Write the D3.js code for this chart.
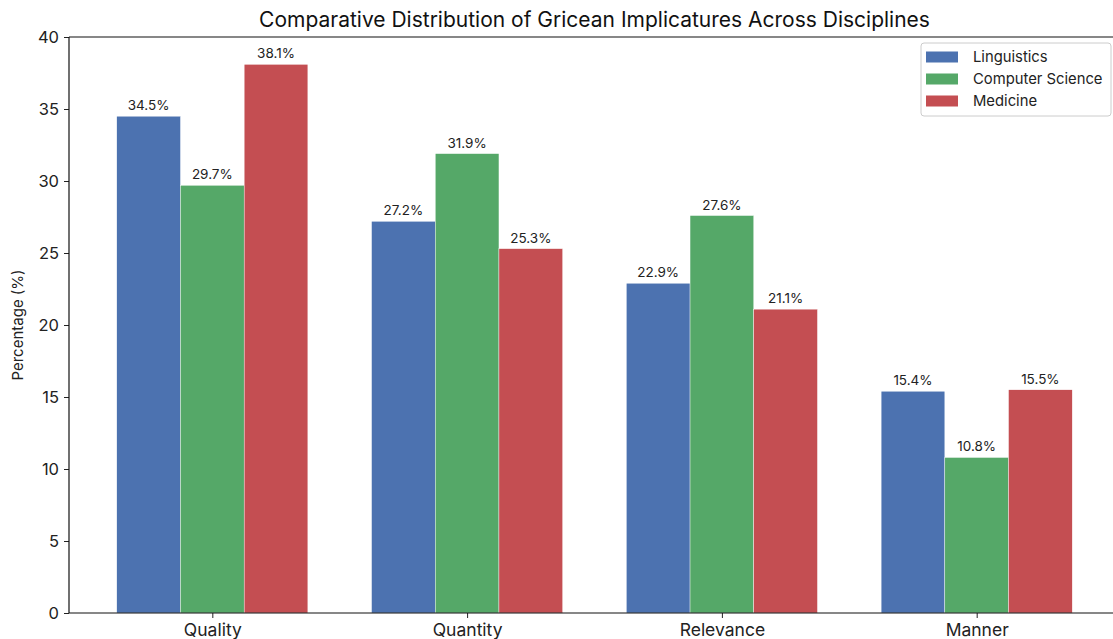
<!DOCTYPE html>
<html><head><meta charset="utf-8">
<script src="https://cdn.jsdelivr.net/npm/d3@7"></script>
<style>body{margin:0;background:#fff;overflow:hidden}svg{display:block;font-family:Inter,"Noto Sans",sans-serif}</style>
</head><body><svg id="c" width="1113" height="639"></svg>
<script>
const categories = ["Quality","Quantity","Relevance","Manner"];
const seriesNames = ["Linguistics","Computer Science","Medicine"];
const linguistics = [34.5,27.2,22.9,15.4];
const computerScience = [29.7,31.9,27.6,10.8];
const medicine = [38.1,25.3,21.1,15.5];
const colors = ["#4c72b0","#55a868","#c44e52"];
const yTicks = [0,5,10,15,20,25,30,35,40];
const title = "Comparative Distribution of Gricean Implicatures Across Disciplines";

const series = [linguistics, computerScience, medicine];
const svg = d3.select("#c");
const L = 69, R = 1120, T = 37, B = 613;
const barW = 0.25;
const x = d3.scaleLinear().domain([-0.5625, 3.5625]).range([L, R]);
const y = d3.scaleLinear().domain([0, 40]).range([B, T]);

// bars
series.forEach((vals, si) => {
  const off = (si - 1) * barW;
  const g = svg.append("g");
  g.selectAll("rect").data(vals).join("rect")
    .attr("x", (d,i) => x(i + off - barW/2))
    .attr("width", (d,i) => x(i + off + barW/2) - x(i + off - barW/2))
    .attr("y", d => y(d))
    .attr("height", d => y(0) - y(d))
    .attr("fill", colors[si])
    .attr("stroke", "#fff").attr("stroke-width", 0.4);
  g.selectAll("text").data(vals).join("text")
    .attr("x", (d,i) => x(i + off))
    .attr("y", d => y(d) - 6)
    .attr("text-anchor", "middle")
    .attr("font-size", 13.5).attr("fill", "#222")
    .text(d => d.toFixed(1) + "%");
});

// axes
const yAxis = d3.axisLeft(y).tickValues(yTicks).tickSize(5).tickPadding(5).tickFormat(d3.format("d"));
const ya = svg.append("g").attr("transform", `translate(${L},0)`).call(yAxis);
ya.select(".domain").remove();
ya.selectAll("text").attr("font-size", 16.5).attr("fill", "#222").attr("font-family", "Inter,'Noto Sans',sans-serif");
ya.selectAll("line").attr("stroke", "#222");

const xAxis = d3.axisBottom(d3.scalePoint().domain(categories).range([x(0), x(3)])).tickSize(5).tickPadding(6);
const xa = svg.append("g").attr("transform", `translate(0,${B})`).call(xAxis);
xa.select(".domain").remove();
xa.selectAll("text").attr("font-size", 17.5).attr("fill", "#222").attr("font-family", "Inter,'Noto Sans',sans-serif");
xa.selectAll("line").attr("stroke", "#222");

// spines
[[L,T,L,B],[L,B,R,B],[L,T,R,T],[R,T,R,B]].forEach(s => {
  svg.append("line").attr("x1", s[0]).attr("y1", s[1]).attr("x2", s[2]).attr("y2", s[3])
    .attr("stroke", "#111").attr("stroke-width", 1.2);
});

// title
svg.append("text").attr("x", (L + R) / 2).attr("y", 27).attr("text-anchor", "middle")
  .attr("font-size", 21).attr("fill", "#111").text(title);

// y label
svg.append("text").attr("transform", `translate(23,${(T + B) / 2}) rotate(-90)`)
  .attr("text-anchor", "middle").attr("font-size", 15).attr("fill", "#222").text("Percentage (%)");

// legend
const lg = svg.append("g");
lg.append("rect").attr("x", 921).attr("y", 43).attr("width", 190).attr("height", 73).attr("rx", 3)
  .attr("fill", "#fff").attr("stroke", "#ccc");
seriesNames.forEach((n, i) => {
  const cy = 57 + i * 22;
  lg.append("rect").attr("x", 926).attr("y", cy - 5.5).attr("width", 32).attr("height", 11).attr("fill", colors[i]);
  lg.append("text").attr("x", 973).attr("y", cy + 5).attr("font-size", 14.8).attr("fill", "#222").text(n);
});
</script></body></html>
